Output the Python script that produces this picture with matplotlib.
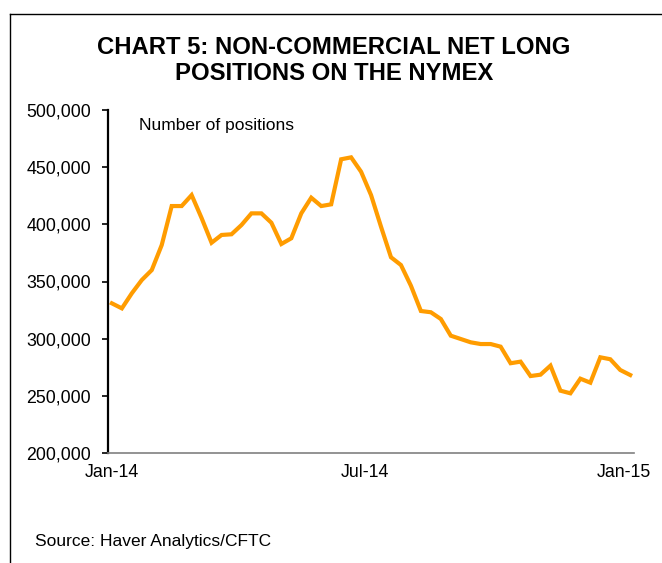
import matplotlib.pyplot as plt
from matplotlib.lines import Line2D
from matplotlib.ticker import FuncFormatter

plt.rcParams['font.family'] = ['Liberation Sans', 'DejaVu Sans']

# weekly net long positions, Jan-14 .. Dec-14
positions = [330900, 326500, 339700, 351300, 360000, 381900, 416000, 416000,
             425600, 405500, 383900, 390700, 391300, 399400, 409600, 409600,
             401400, 382800, 387800, 409600, 423300, 416000, 417500, 456900,
             458600, 446000, 425600, 397900, 371200, 364400, 346300, 324200,
             323100, 317200, 302600, 299700, 296800, 295300, 295300, 293000,
             278500, 279900, 267300, 268500, 276400, 254500, 252200, 265000,
             261500, 283700, 282000, 272600, 268200]
weeks = list(range(len(positions)))
x_labels = ['Jan-14', 'Jul-14', 'Jan-15']
x_label_pos = [0, 25.4, 51.4]
y_ticks = [200000, 250000, 300000, 350000, 400000, 450000, 500000]

fig = plt.figure(figsize=(6.62, 5.63), dpi=100)
ax = fig.add_axes([0.163, 0.1954, 0.795, 0.6092])

ax.plot(weeks, positions, color='#FF9C00', linewidth=3.0, solid_joinstyle='miter')

ax.set_xlim(-0.4, 52.4)
ax.set_ylim(200000, 500000)
ax.set_yticks(y_ticks)
ax.yaxis.set_major_formatter(FuncFormatter(lambda v, p: f'{int(v):,}'))
ax.set_xticks(x_label_pos)
ax.set_xticklabels(x_labels)
ax.tick_params(axis='y', direction='out', length=4, width=1.2, labelsize=12.8, pad=8)
ax.tick_params(axis='x', length=0, labelsize=12.8, pad=8)

for s in ['top', 'right']:
    ax.spines[s].set_visible(False)
ax.spines['left'].set_linewidth(1.6)
ax.spines['bottom'].set_color('#808080')
ax.spines['bottom'].set_linewidth(1.2)

ax.text(0.06, 0.955, 'Number of positions', transform=ax.transAxes, fontsize=12.5,
        va='center', ha='left')

fig.text(0.504, 0.9041, 'CHART 5: NON-COMMERCIAL NET LONG',
         ha='center', va='baseline', fontsize=17.2, fontweight='bold')
fig.text(0.504, 0.8579, 'POSITIONS ON THE NYMEX',
         ha='center', va='baseline', fontsize=17.2, fontweight='bold')
fig.text(0.053, 0.039, 'Source: Haver Analytics/CFTC', fontsize=12.5, va='center')

# border lines of the chart box
fig.add_artist(Line2D([0.0151, 0.0151], [0, 0.975], color='black', linewidth=1))
fig.add_artist(Line2D([0.0151, 1.0], [0.975, 0.975], color='black', linewidth=1))

fig.savefig('out.png', dpi=100)
